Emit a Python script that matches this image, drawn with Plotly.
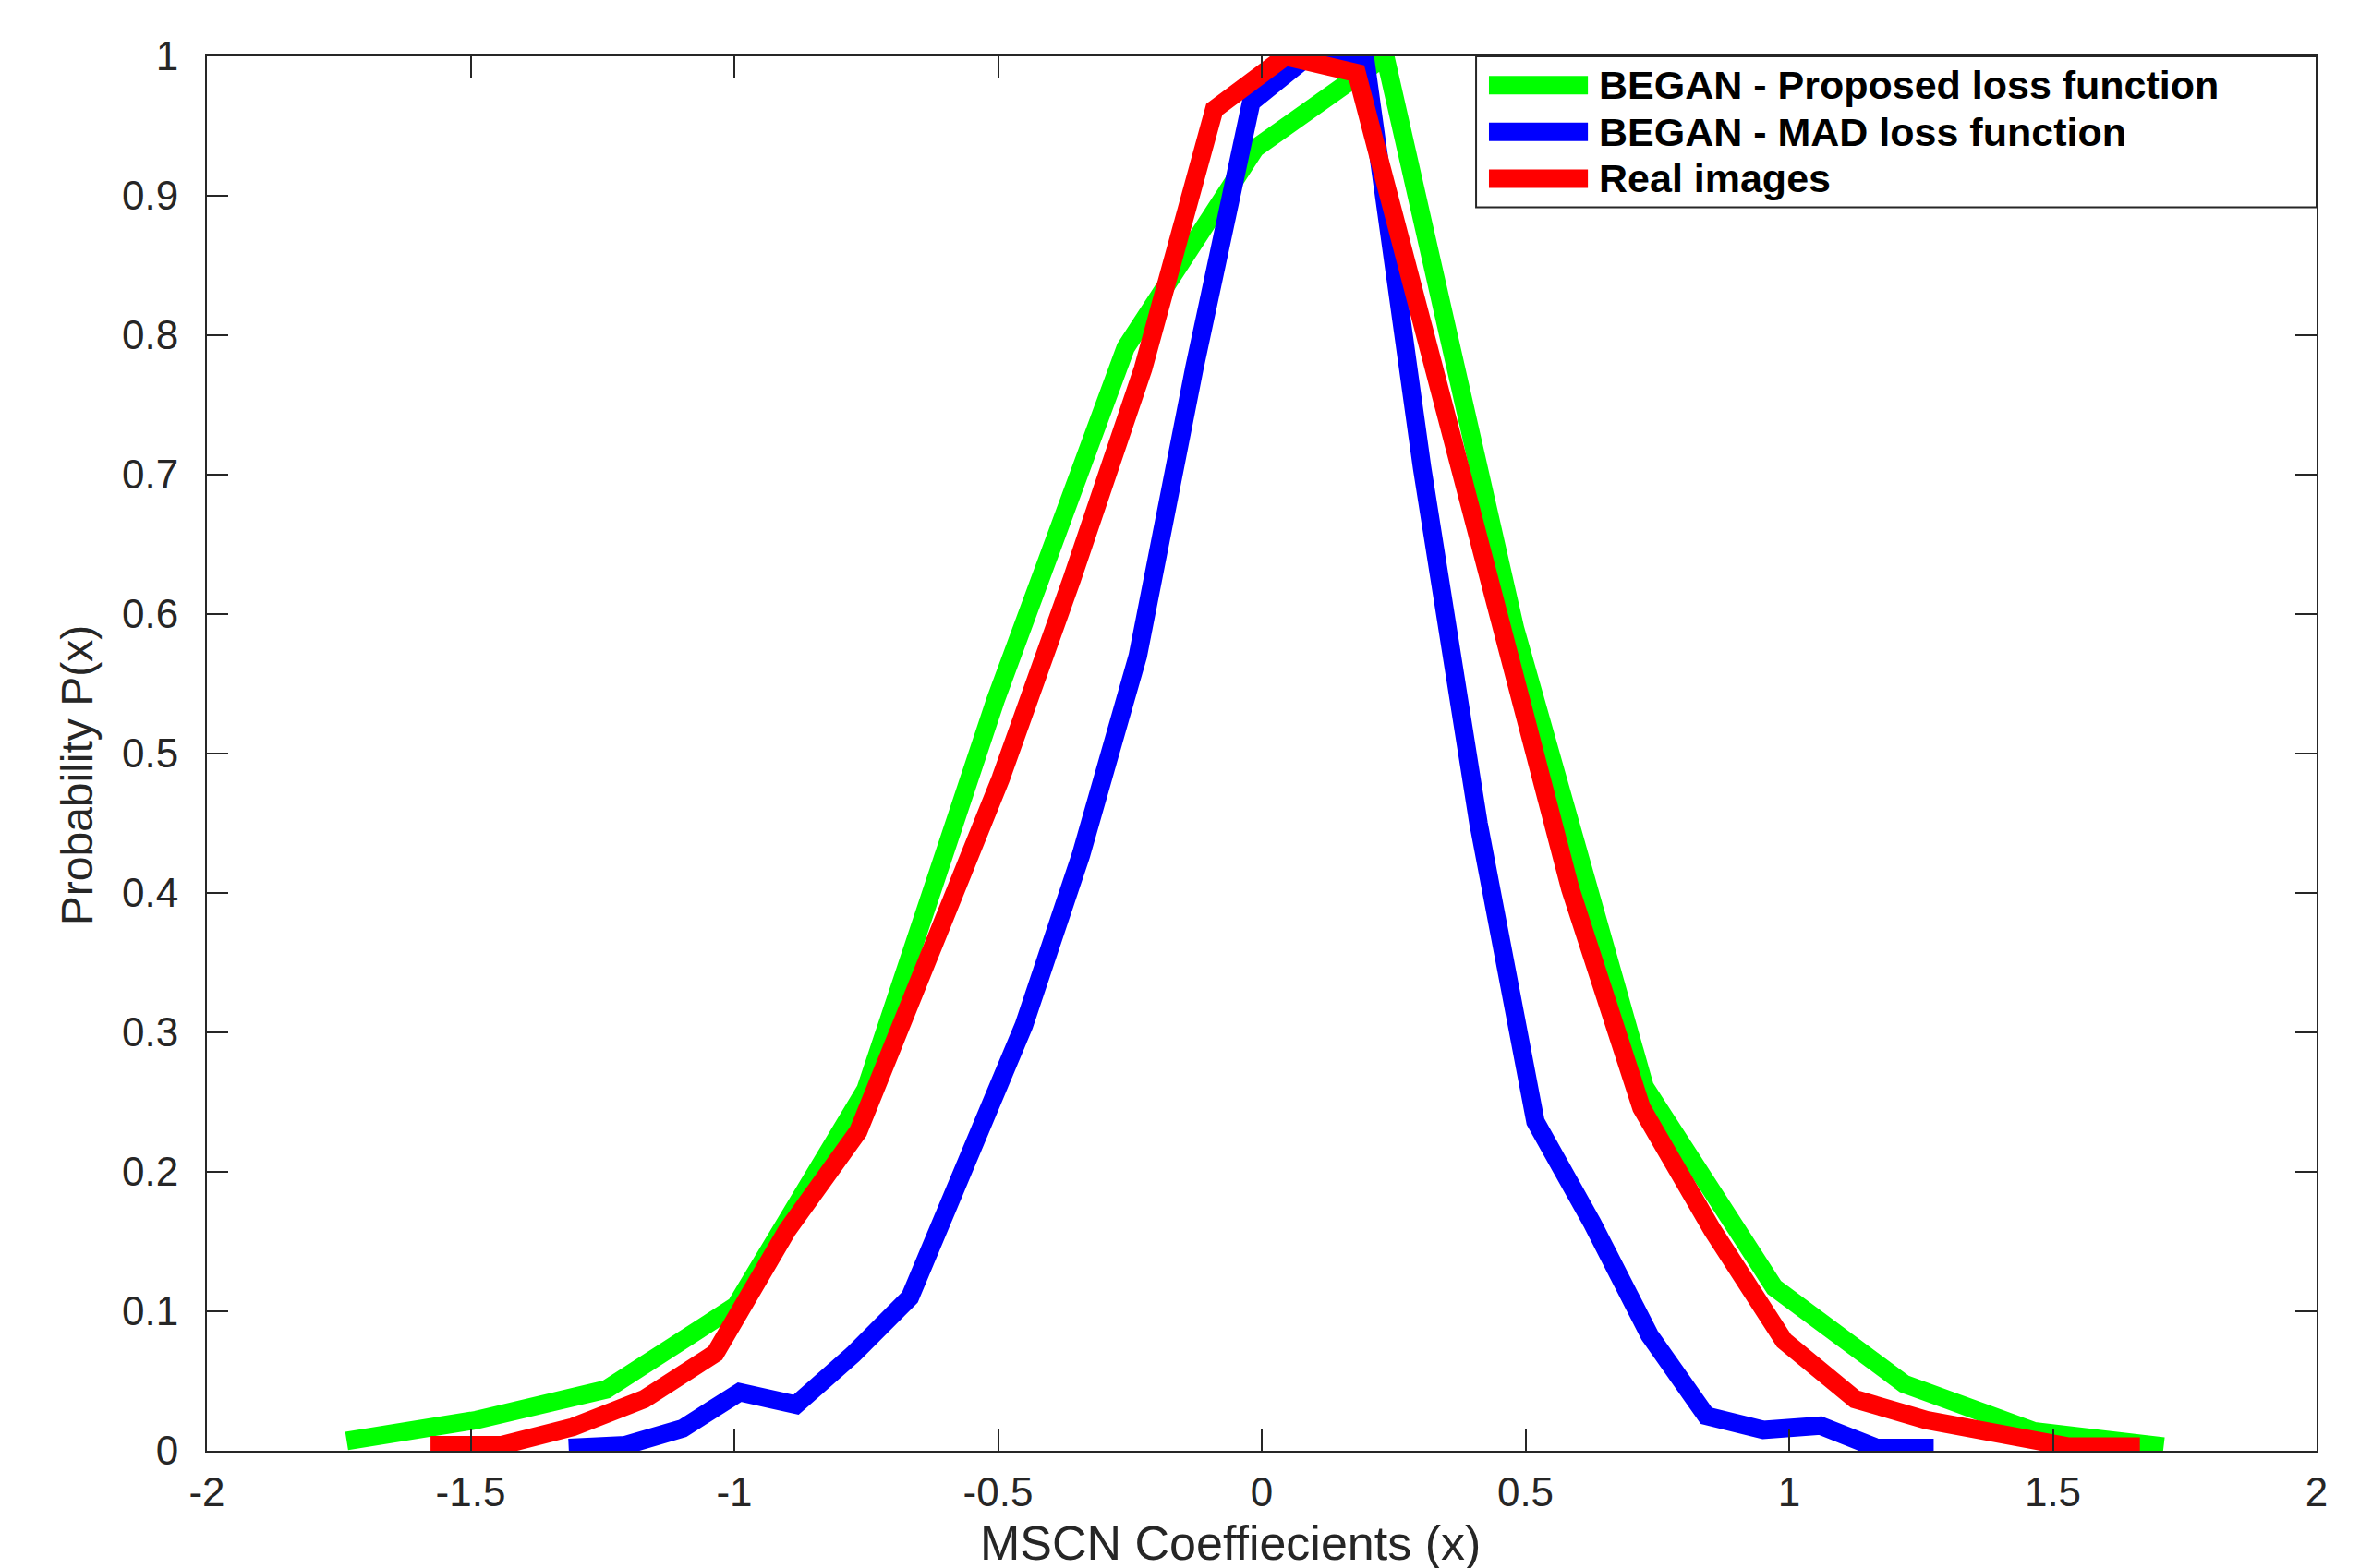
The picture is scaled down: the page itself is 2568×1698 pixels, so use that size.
import plotly.graph_objects as go

# MSCN coefficient histograms (normalised)
green_x = [-1.735, -1.489, -1.243, -0.997, -0.751, -0.505, -0.258, -0.012,
           0.234, 0.480, 0.726, 0.972, 1.218, 1.464, 1.710]
green_y = [0.007, 0.022, 0.044, 0.104, 0.259, 0.538, 0.791, 0.934,
           1.0, 0.59, 0.261, 0.117, 0.048, 0.014, 0.003]

blue_x = [-1.314, -1.206, -1.098, -0.990, -0.883, -0.775, -0.667, -0.559,
          -0.451, -0.343, -0.235, -0.128, -0.020, 0.088, 0.196, 0.304,
          0.411, 0.519, 0.627, 0.735, 0.843, 0.951, 1.059, 1.166, 1.274]
blue_y = [0.002, 0.004, 0.016, 0.042, 0.033, 0.069, 0.110, 0.211,
          0.305, 0.427, 0.570, 0.776, 0.967, 1.0, 0.998, 0.705,
          0.45, 0.236, 0.163, 0.083, 0.025, 0.015, 0.018, 0.002, 0.002]

red_x = [-1.576, -1.441, -1.306, -1.171, -1.036, -0.900, -0.765, -0.630,
         -0.495, -0.360, -0.225, -0.090, 0.045, 0.180, 0.315, 0.450,
         0.585, 0.720, 0.855, 0.990, 1.125, 1.260, 1.395, 1.530, 1.665]
red_y = [0.004, 0.004, 0.017, 0.037, 0.070, 0.158, 0.229, 0.360,
         0.482, 0.625, 0.776, 0.962, 1.0, 0.988, 0.79, 0.593,
         0.403, 0.246, 0.158, 0.079, 0.037, 0.022, 0.013, 0.003, 0.003]

names = ["BEGAN - Proposed loss function", "BEGAN - MAD loss function", "Real images"]
colors = ["#00ff00", "#0000ff", "#ff0000"]

x_ticks = [-2, -1.5, -1, -0.5, 0, 0.5, 1, 1.5, 2]
x_ticktext = ["-2", "-1.5", "-1", "-0.5", "0", "0.5", "1", "1.5", "2"]
y_ticks = [0, 0.1, 0.2, 0.3, 0.4, 0.5, 0.6, 0.7, 0.8, 0.9, 1]
y_ticktext = ["0", "0.1", "0.2", "0.3", "0.4", "0.5", "0.6", "0.7", "0.8", "0.9", "1"]

axis_col = "#262626"
font_fam = "Liberation Sans, Arial, sans-serif"
tick_font = dict(family=font_fam, size=44, color=axis_col)

fig = go.Figure()
for xs, ys, name, col in zip([green_x, blue_x, red_x], [green_y, blue_y, red_y], names, colors):
    fig.add_trace(go.Scatter(x=xs, y=ys, mode="lines", name=name, showlegend=False,
                             line=dict(color=col, width=20)))

axis_common = dict(showline=True, linecolor=axis_col, linewidth=2, mirror="ticks",
                   ticks="inside", ticklen=23, tickwidth=2, tickcolor=axis_col,
                   showgrid=False, zeroline=False, tickfont=tick_font)

fig.update_xaxes(range=[-2, 2], tickvals=x_ticks, ticktext=x_ticktext,
                 ticklabelstandoff=5, **axis_common)
fig.update_yaxes(range=[0, 1], tickvals=y_ticks, ticktext=y_ticktext,
                 ticklabelstandoff=20, **axis_common)

# legend drawn by hand so the swatches are long like the original
shapes = [dict(type="rect", xref="paper", yref="paper", x0=0.6016, x1=1.0, y0=0.8917, y1=1.0,
               line=dict(color=axis_col, width=2), fillcolor="white", layer="above")]
annotations = []
row_y = [0.9793, 0.9458, 0.9123]
for i, (name, col) in enumerate(zip(names, colors)):
    shapes.append(dict(type="line", xref="paper", yref="paper", x0=0.6077, x1=0.6546,
                       y0=row_y[i], y1=row_y[i], line=dict(color=col, width=20), layer="above"))
    annotations.append(dict(text="<b>" + name + "</b>", xref="paper", yref="paper",
                            x=0.659, y=row_y[i], xanchor="left", yanchor="middle", showarrow=False,
                            font=dict(family=font_fam, size=43, color="black")))

annotations.append(dict(text="Probability P(x)", xref="paper", yref="paper", x=-0.0617, y=0.484,
                        textangle=-90, xanchor="center", yanchor="middle", showarrow=False,
                        font=dict(family=font_fam, size=48, color=axis_col)))
annotations.append(dict(text="MSCN Coeffiecients (x)", xref="paper", yref="paper", x=0.485, y=-0.066,
                        xanchor="center", yanchor="middle", showarrow=False,
                        font=dict(family=font_fam, size=52, color=axis_col)))

fig.update_layout(width=2568, height=1698, margin=dict(l=216, r=68, t=53, b=135),
                  plot_bgcolor="white", paper_bgcolor="white",
                  shapes=shapes, annotations=annotations)

fig.write_html("out.html")
